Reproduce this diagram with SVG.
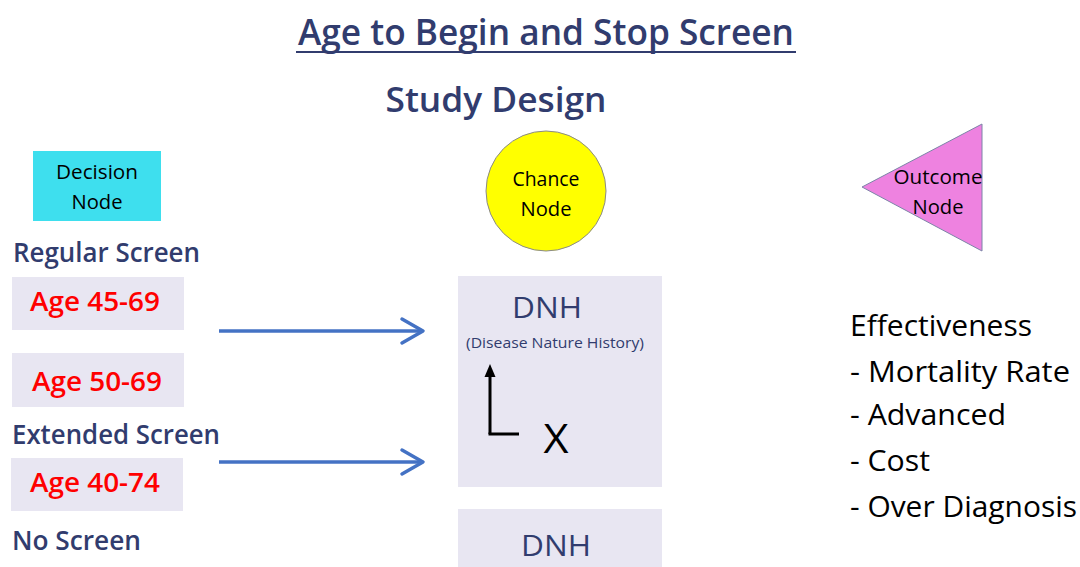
<svg xmlns="http://www.w3.org/2000/svg" width="1080" height="567" viewBox="0 0 1080 567">
<defs>
<style>
text{font-family:"Open Sans",Lato,"Noto Sans",sans-serif}
.navy{fill:#313c6e;font-weight:600}
.red{fill:#ff0000;font-size:27px;font-weight:600}
.blk{fill:#000}
.box{fill:#e8e6f2}
.conn{stroke:#4472c4;stroke-width:3.5;fill:none}
.head{stroke:#4472c4;stroke-width:3.5;fill:none;stroke-linecap:round;stroke-linejoin:round}
</style>
</defs>
<rect width="1080" height="567" fill="#fff"/>
<g id="title">
<text x="546" y="45" text-anchor="middle" font-size="36" class="navy" textLength="496" lengthAdjust="spacingAndGlyphs">Age to Begin and Stop Screen</text>
<line x1="296" y1="52" x2="796" y2="52" stroke="#313c6e" stroke-width="2"/>
<text x="496" y="112" text-anchor="middle" font-size="34" class="navy" textLength="221" lengthAdjust="spacingAndGlyphs">Study Design</text>
</g>
<g id="decision-node">
<rect x="33" y="151" width="128" height="70" fill="#3edfee"/>
<text x="97" y="179" text-anchor="middle" font-size="20" class="blk" textLength="82" lengthAdjust="spacingAndGlyphs">Decision</text>
<text x="97" y="209" text-anchor="middle" font-size="20" class="blk" textLength="51" lengthAdjust="spacingAndGlyphs">Node</text>
</g>
<g id="regular-screen">
<text x="13" y="262" font-size="27" class="navy" textLength="187" lengthAdjust="spacingAndGlyphs">Regular Screen</text>
</g>
<g id="age-45-69">
<rect x="12" y="277" width="172" height="53" class="box"/>
<text x="30" y="311" class="red" textLength="130" lengthAdjust="spacingAndGlyphs">Age 45-69</text>
</g>
<g id="age-50-69">
<rect x="12" y="353" width="172" height="54" class="box"/>
<text x="32" y="391" class="red" textLength="130" lengthAdjust="spacingAndGlyphs">Age 50-69</text>
</g>
<g id="extended-screen">
<text x="12" y="444" font-size="27" class="navy" textLength="208" lengthAdjust="spacingAndGlyphs">Extended Screen</text>
</g>
<g id="age-40-74">
<rect x="11" y="458" width="172" height="53" class="box"/>
<text x="30" y="492" class="red" textLength="130" lengthAdjust="spacingAndGlyphs">Age 40-74</text>
</g>
<g id="no-screen">
<text x="12" y="550" font-size="27" class="navy" textLength="129" lengthAdjust="spacingAndGlyphs">No Screen</text>
</g>
<g id="chance-node">
<circle cx="546" cy="191" r="60" fill="#ffff00" stroke="#8a8a8a" stroke-width="1"/>
<text x="546" y="186" text-anchor="middle" font-size="20" class="blk" textLength="67" lengthAdjust="spacingAndGlyphs">Chance</text>
<text x="546" y="216" text-anchor="middle" font-size="20" class="blk" textLength="51" lengthAdjust="spacingAndGlyphs">Node</text>
</g>
<g id="dnh-1">
<rect x="458" y="276" width="204" height="211" class="box"/>
<text x="547" y="318" text-anchor="middle" font-size="30" class="navy" style="font-weight:500" textLength="70" lengthAdjust="spacingAndGlyphs">DNH</text>
<text x="555" y="348" text-anchor="middle" font-size="15" class="navy" style="font-weight:500" textLength="178" lengthAdjust="spacingAndGlyphs">(Disease Nature History)</text>
<path d="M490,434 L490,375" stroke="#000" stroke-width="3" fill="none"/>
<polygon points="490,364 495.5,377 484.5,377" fill="#000"/>
<path d="M488.5,434 L519,434" stroke="#000" stroke-width="3" fill="none"/>
<text x="556" y="453" text-anchor="middle" font-size="40" class="blk" textLength="25" lengthAdjust="spacingAndGlyphs">X</text>
</g>
<g id="dnh-2">
<rect x="458" y="509" width="204" height="70" class="box"/>
<text x="556" y="556" text-anchor="middle" font-size="30" class="navy" style="font-weight:500" textLength="70" lengthAdjust="spacingAndGlyphs">DNH</text>
</g>
<g id="outcome-node">
<polygon points="862,187 982,124 982,251" fill="#ee82e0" stroke="#7d84a8" stroke-width="1"/>
<text x="938" y="184" text-anchor="middle" font-size="20" class="blk" textLength="89" lengthAdjust="spacingAndGlyphs">Outcome</text>
<text x="938" y="214" text-anchor="middle" font-size="20" class="blk" textLength="51" lengthAdjust="spacingAndGlyphs">Node</text>
</g>
<g id="effectiveness" font-size="30" class="blk">
<text x="850" y="336" textLength="182" lengthAdjust="spacingAndGlyphs">Effectiveness</text>
<text x="850" y="382" textLength="220" lengthAdjust="spacingAndGlyphs">- Mortality Rate</text>
<text x="850" y="425" textLength="156" lengthAdjust="spacingAndGlyphs">- Advanced</text>
<text x="850" y="471" textLength="80" lengthAdjust="spacingAndGlyphs">- Cost</text>
<text x="850" y="517" textLength="227" lengthAdjust="spacingAndGlyphs">- Over Diagnosis</text>
</g>
<g id="connectors">
<line x1="219" y1="331" x2="422" y2="331" class="conn"/>
<polyline points="402,319 423,331 402,343" class="head"/>
<line x1="219" y1="462" x2="422" y2="462" class="conn"/>
<polyline points="402,450 423,462 402,474" class="head"/>
</g>
</svg>
